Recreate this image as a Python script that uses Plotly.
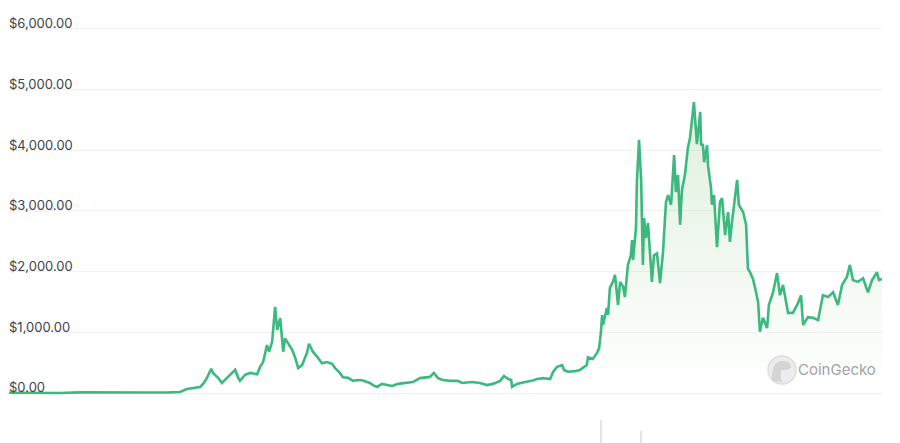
import plotly.graph_objects as go

# ---- price series (USD) ----
dates = [
    "2015-08-09", "2015-10-18", "2016-01-26", "2016-04-01", "2016-06-07", "2016-09-15",
    "2016-11-21", "2017-01-26", "2017-03-01", "2017-03-24", "2017-04-13", "2017-05-07",
    "2017-05-17", "2017-05-30", "2017-06-13", "2017-06-19", "2017-07-06", "2017-07-19",
    "2017-07-29", "2017-08-15", "2017-09-01", "2017-09-11", "2017-09-17", "2017-10-04",
    "2017-10-21", "2017-11-13", "2017-11-23", "2017-12-03", "2017-12-16", "2017-12-23",
    "2018-01-02", "2018-01-12", "2018-01-19", "2018-01-29", "2018-02-08", "2018-02-14",
    "2018-02-24", "2018-03-10", "2018-03-20", "2018-03-30", "2018-04-12", "2018-04-28",
    "2018-05-05", "2018-05-18", "2018-06-04", "2018-06-17", "2018-07-04", "2018-07-21",
    "2018-07-31", "2018-08-16", "2018-08-26", "2018-09-12", "2018-09-29", "2018-10-15",
    "2018-10-29", "2018-11-24", "2018-12-04", "2018-12-18", "2019-01-03", "2019-01-20",
    "2019-02-06", "2019-02-26", "2019-03-27", "2019-04-16", "2019-05-10", "2019-06-02",
    "2019-06-12", "2019-06-25", "2019-07-09", "2019-07-25", "2019-08-18", "2019-09-13",
    "2019-09-27", "2019-10-30", "2019-11-26", "2019-12-19", "2020-01-08", "2020-02-01",
    "2020-02-14", "2020-02-28", "2020-03-09", "2020-03-12", "2020-03-28", "2020-04-24",
    "2020-05-17", "2020-06-03", "2020-06-23", "2020-07-17", "2020-07-27", "2020-08-09",
    "2020-08-26", "2020-09-01", "2020-09-14", "2020-10-08", "2020-10-24", "2020-11-16",
    "2020-11-20", "2020-12-06", "2020-12-20", "2020-12-27", "2021-01-02", "2021-01-06",
    "2021-01-09", "2021-01-22", "2021-01-26", "2021-02-01", "2021-02-11", "2021-02-18",
    "2021-02-28", "2021-03-07", "2021-03-17", "2021-03-23", "2021-04-02", "2021-04-12",
    "2021-04-16", "2021-04-19", "2021-04-29", "2021-05-02", "2021-05-09", "2021-05-16",
    "2021-05-22", "2021-05-26", "2021-06-01", "2021-06-08", "2021-06-11", "2021-06-21",
    "2021-06-28", "2021-07-08", "2021-07-18", "2021-07-28", "2021-08-07", "2021-08-14",
    "2021-08-24", "2021-09-03", "2021-09-09", "2021-09-16", "2021-09-23", "2021-09-29",
    "2021-10-09", "2021-10-19", "2021-10-26", "2021-11-02", "2021-11-08", "2021-11-18",
    "2021-11-29", "2021-12-02", "2021-12-08", "2021-12-12", "2021-12-22", "2021-12-25",
    "2022-01-04", "2022-01-07", "2022-01-14", "2022-01-24", "2022-02-03", "2022-02-10",
    "2022-02-20", "2022-03-02", "2022-03-08", "2022-03-15", "2022-04-01", "2022-04-07",
    "2022-04-21", "2022-05-01", "2022-05-07", "2022-05-14", "2022-05-24", "2022-05-31",
    "2022-06-10", "2022-06-16", "2022-06-26", "2022-07-10", "2022-07-16", "2022-07-30",
    "2022-08-12", "2022-08-22", "2022-09-01", "2022-09-18", "2022-10-04", "2022-10-21",
    "2022-10-31", "2022-11-07", "2022-11-23", "2022-12-10", "2022-12-27", "2023-01-12",
    "2023-01-29", "2023-02-15", "2023-03-03", "2023-03-17", "2023-04-02", "2023-04-12",
    "2023-04-22", "2023-05-09", "2023-05-26", "2023-06-11", "2023-06-25", "2023-07-11",
    "2023-07-18", "2023-07-28",
]
prices = [
    3, 1, 1, 11, 14, 12,
    9, 10, 17, 65, 80, 100,
    150, 250, 400, 330, 250, 165,
    215, 300, 380, 250, 200, 300,
    330, 310, 430, 510, 790, 680,
    840, 1420, 1040, 1235, 680, 900,
    820, 710, 580, 410, 460, 660,
    810, 680, 580, 490, 510, 480,
    410, 330, 260, 250, 200, 215,
    210, 165, 130, 100, 150, 130,
    115, 150, 165, 180, 245, 265,
    265, 330, 245, 215, 200, 200,
    165, 180, 165, 130, 150, 200,
    280, 230, 215, 100, 150, 180,
    200, 230, 245, 230, 350, 430,
    460, 380, 350, 360, 380, 460,
    590, 560, 660, 740, 1000, 1285,
    1120, 1400, 1285, 1730, 1830, 1945,
    1450, 1830, 1750, 1580, 2110, 2270,
    2520, 2190, 2720, 3475, 4170, 3540,
    2110, 2880, 2550, 2800, 2600, 1830,
    2270, 2300, 1810, 2320, 3150, 3260,
    3100, 3920, 3310, 3590, 2770, 3340,
    3590, 4040, 4200, 4580, 4790, 4100,
    4630, 4080, 4100, 3800, 4080, 3750,
    3380, 3100, 3260, 2400, 3150, 3210,
    2600, 2980, 2490, 2820, 3510, 3100,
    2980, 2770, 2050, 1990, 1880, 1730,
    1500, 1010, 1240, 1070, 1450, 1660,
    1975, 1610, 1780, 1320, 1320, 1480,
    1610, 1120, 1250, 1240, 1200, 1610,
    1580, 1660, 1450, 1780, 1910, 2110,
    1860, 1830, 1890, 1660, 1860, 1990,
    1860, 1880,
]

# ---- volume (USD bn), only the spikes visible at the bottom edge ----
volume_dates = ["2021-01-02", "2021-05-17"]
volume_values = [43, 23]

# ---- axis ticks ----
tick_values = [0, 1000, 2000, 3000, 4000, 5000, 6000]
tick_labels = ["$0.00", "$1,000.00", "$2,000.00", "$3,000.00",
               "$4,000.00", "$5,000.00", "$6,000.00"]

LINE = "#3cb97f"

fig = go.Figure()

fig.add_trace(go.Bar(
    x=volume_dates, y=volume_values, yaxis="y2",
    marker=dict(color="#e2e4e9", line=dict(width=0)),
    width=5 * 86400000, hoverinfo="skip", showlegend=False,
))

# gradient area under the price line
fig.add_trace(go.Scatter(
    x=dates, y=prices, mode="lines",
    line=dict(width=0, color="rgba(0,0,0,0)"),
    fill="tozeroy",
    fillgradient=dict(
        type="vertical",
        colorscale=[[0, "rgba(120,190,110,0.0)"], [1, "rgba(110,185,100,0.22)"]],
    ),
    hoverinfo="skip", showlegend=False,
))

# price line
fig.add_trace(go.Scatter(
    x=dates, y=prices, mode="lines",
    line=dict(color=LINE, width=2.6),
    hoverinfo="skip", showlegend=False,
))

# CoinGecko watermark
fig.add_shape(type="circle", xref="paper", yref="paper",
              x0=0.8694, x1=0.9015, y0=0.1332, y1=0.1964,
              fillcolor="#ececec", line=dict(color="#dedede", width=1.5), layer="above")
fig.add_shape(type="path", xref="paper", yref="paper",
              path="M 0.874,0.140 Q 0.873,0.180 0.884,0.185 Q 0.895,0.186 0.896,0.172 "
                   "Q 0.893,0.163 0.885,0.165 Q 0.882,0.150 0.886,0.137 Z",
              fillcolor="#d4d4d4", line=dict(width=0), layer="above")
fig.add_annotation(x=0.9485, y=0.1648, xref="paper", yref="paper",
                   xanchor="center", yanchor="middle",
                   text="CoinGecko", showarrow=False,
                   font=dict(family="Inter", size=15, color="#a3a3a3"))

fig.update_layout(
    width=900, height=443,
    margin=dict(l=9, r=18, t=0, b=0),
    paper_bgcolor="white", plot_bgcolor="white",
    showlegend=False,
    hovermode=False,
    bargap=0,
    xaxis=dict(
        type="date", range=[dates[0], dates[-1]],
        showgrid=False, zeroline=False, showticklabels=False, showline=False,
    ),
    yaxis=dict(
        range=[-823.5, 6472.7],
        tickvals=tick_values, ticktext=tick_labels,
        ticklabelposition="inside top",
        ticklabelstandoff=-3, ticklabelshift=4,
        showgrid=True, gridcolor="#f1f1f1", gridwidth=1,
        zeroline=False, showline=False, ticks="",
        tickfont=dict(family="Inter", size=13, color="#3d434c"),
    ),
    yaxis2=dict(
        overlaying="y", range=[0, 828], anchor="x",
        showgrid=False, zeroline=False, showticklabels=False, showline=False,
    ),
)

fig.write_html(
    "out.html",
    config={"displayModeBar": False},
    post_script="document.body.style.margin='0';document.body.style.overflow='hidden';",
)
